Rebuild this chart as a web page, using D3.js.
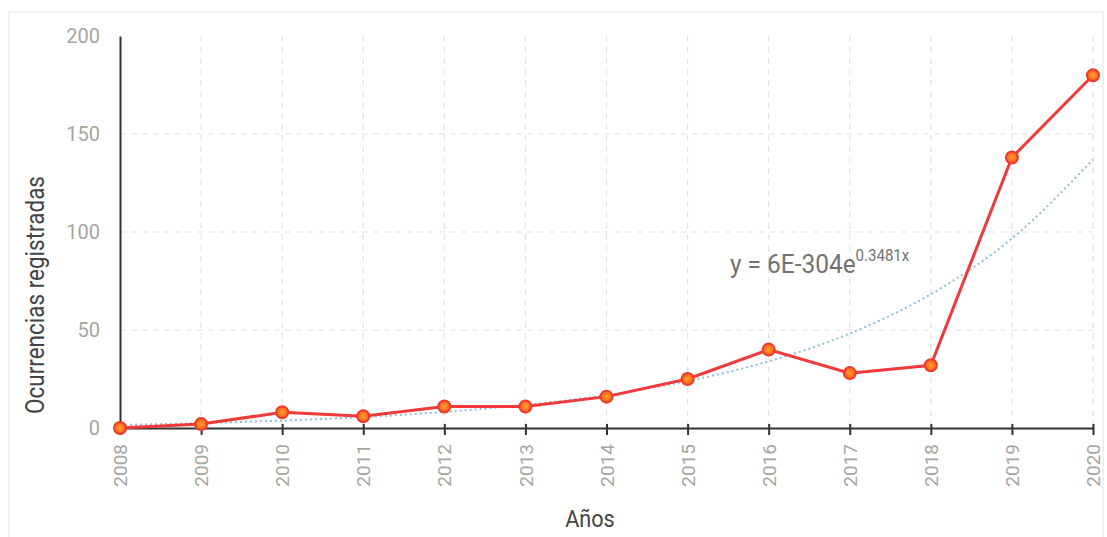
<!DOCTYPE html>
<html><head><meta charset="utf-8">
<script src="https://cdn.jsdelivr.net/npm/d3@7"></script>
<style>body{margin:0;background:#fff;}svg{display:block;}</style>
</head><body>
<svg id="c" width="1107" height="537"></svg>
<script>
const years = [2008,2009,2010,2011,2012,2013,2014,2015,2016,2017,2018,2019,2020];
const occurrences = [0,2,8,6,11,11,16,25,40,28,32,138,180];
const trendValues = [1.5,2.5,3.8,5.6,8.2,11.8,16.8,24.0,34.0,48.2,68.3,96.7,137];
const yTicks = [0,50,100,150,200];
const equationMain = "y = 6E-304e";
const equationExp = "0.3481x";
const xTitle = "Años";
const yTitle = "Ocurrencias registradas";

const svg = d3.select("#c");
const L = 120, R = 1093, T = 36, B = 428;
const x = d3.scalePoint().domain(years).range([L, R]);
const y = d3.scaleLinear().domain([0, 200]).range([B, T]);
const font = "Roboto, 'Liberation Sans', sans-serif";

const defs = svg.append("defs");
const rg = defs.append("radialGradient").attr("id","mk");
rg.append("stop").attr("offset","0%").attr("stop-color","#ffa22a");
rg.append("stop").attr("offset","100%").attr("stop-color","#ff5a1c");

// frame
svg.append("rect").attr("x",9).attr("y",12).attr("width",1094).attr("height",540)
  .attr("fill","none").attr("stroke","#ececec").attr("stroke-width",1.5);

// grid
const g = svg.append("g");
g.selectAll(".vg").data(years.slice(1)).join("line")
  .attr("x1",d=>x(d)).attr("x2",d=>x(d)).attr("y1",T).attr("y2",B)
  .attr("stroke","#e3e3e3").attr("stroke-width",1.2).attr("stroke-dasharray","6,5");
g.selectAll(".hg").data(yTicks.filter(d=>d>0 && d<200)).join("line")
  .attr("x1",L).attr("x2",R).attr("y1",d=>y(d)).attr("y2",d=>y(d))
  .attr("stroke","#e3e3e3").attr("stroke-width",1.2).attr("stroke-dasharray","6,5");

// y axis
const ya = svg.append("g").attr("transform",`translate(${L},0)`)
  .call(d3.axisLeft(y).tickValues(yTicks).tickSize(0).tickPadding(20));
ya.select(".domain").attr("stroke","#333").attr("stroke-width",2);
ya.selectAll("text").attr("font-family",font).attr("font-size",20).attr("fill","#a6a6a0");

// x axis
const xa = svg.append("g").attr("transform",`translate(0,${B})`)
  .call(d3.axisBottom(x).tickSizeInner(6).tickSizeOuter(0).tickFormat(d3.format("d")));
xa.select(".domain").attr("stroke","#333").attr("stroke-width",2);
xa.selectAll(".tick line").attr("y1",-4).attr("y2",7).attr("stroke","#333").attr("stroke-width",2);
xa.selectAll("text").attr("font-family",font).attr("font-size",19).attr("fill","#a6a6a0")
  .attr("transform","rotate(-90)").attr("text-anchor","end")
  .attr("x",-16).attr("y",0).attr("dy","0.35em");

// trendline
svg.append("path").datum(years.map((d,i)=>[d,trendValues[i]]))
  .attr("d", d3.line().x(d=>x(d[0])).y(d=>y(d[1])).curve(d3.curveMonotoneX))
  .attr("fill","none").attr("stroke","#8fbcd8").attr("stroke-width",2)
  .attr("stroke-dasharray","2,3");

// line
svg.append("path").datum(years.map((d,i)=>[d,occurrences[i]]))
  .attr("d", d3.line().x(d=>x(d[0])).y(d=>y(d[1])))
  .attr("fill","none").attr("stroke","#f0393a").attr("stroke-width",3);

svg.selectAll(".pt").data(years.map((d,i)=>[d,occurrences[i]])).join("circle")
  .attr("cx",d=>x(d[0])).attr("cy",d=>y(d[1])).attr("r",6)
  .attr("fill","url(#mk)").attr("stroke","#ee3a2c").attr("stroke-width",2);

// equation
const eq = svg.append("text").attr("transform","translate(730,273) scale(0.94,1)")
  .attr("font-family",font).attr("font-size",26).attr("fill","#727270");
eq.append("tspan").text(equationMain);
eq.append("tspan").attr("font-size",16).attr("dy",-12).text(equationExp);

// titles
svg.append("text").attr("transform","translate(590,527) scale(0.9,1)").attr("text-anchor","middle")
  .attr("font-family",font).attr("font-size",24).attr("fill","#444").text(xTitle);
svg.append("text").attr("transform","translate(44,295) rotate(-90) scale(0.9,1)").attr("text-anchor","middle")
  .attr("font-family",font).attr("font-size",25).attr("fill","#444").text(yTitle);
</script>
</body></html>
